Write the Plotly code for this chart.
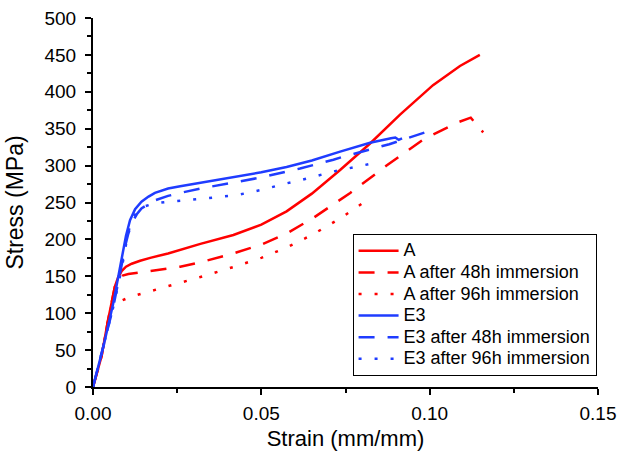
import plotly.graph_objects as go

# ---- data ----
a_x = [0, 0.0025, 0.0045, 0.0065, 0.0075, 0.0085, 0.0098, 0.0115, 0.014, 0.017, 0.0223, 0.0259, 0.0319,
       0.0417, 0.05, 0.0575, 0.065, 0.0734, 0.0823, 0.0912, 0.101, 0.109, 0.1149]
a_y = [0, 41, 91, 136, 149, 157, 163, 167, 171, 175, 181, 186, 194,
       206, 220, 238, 262, 294, 330, 369, 409, 435, 450]

a48_x = [0, 0.0025, 0.0045, 0.0065, 0.0075, 0.0088, 0.0105, 0.0223, 0.0259, 0.0319, 0.0417, 0.05,
         0.0575, 0.0654, 0.0734, 0.0764, 0.0872, 0.098, 0.108, 0.1122, 0.1159]
a48_y = [0, 41, 91, 136, 146, 151, 153, 161, 163, 169, 181, 193,
         208, 229, 253, 263, 300, 335, 358, 365, 345]

a96_x = [0, 0.0025, 0.0045, 0.0055, 0.007, 0.0085, 0.011, 0.015, 0.0223, 0.0279, 0.0319, 0.0427,
         0.05, 0.0575, 0.065, 0.0714, 0.0743, 0.0813, 0.0825]
a96_y = [0, 41, 91, 110, 115, 117, 122, 127, 136, 143, 149, 164,
         175, 189, 206, 223, 231, 253, 256]

e3_x = [0, 0.0031, 0.006, 0.0085, 0.0098, 0.011, 0.0125, 0.0144, 0.0165, 0.0184, 0.0223, 0.0259, 0.032,
        0.0417, 0.05, 0.0575, 0.065, 0.0734, 0.0823, 0.0885, 0.0898, 0.0908, 0.0918]
e3_y = [0, 55, 113, 177, 205, 226, 241, 251, 258, 263, 269, 272, 277,
        284, 291, 298, 307, 319, 331, 337, 338, 335, 337]

e48_x = [0, 0.003, 0.006, 0.0085, 0.0095, 0.0105, 0.0115, 0.013, 0.0144, 0.0184, 0.0223, 0.0259, 0.032,
         0.0417, 0.05, 0.0575, 0.0615, 0.0714, 0.0743, 0.088, 0.1]
e48_y = [0, 52, 108, 165, 190, 208, 222, 234, 242, 253, 259, 263, 269,
         277, 284, 292, 296, 308, 312, 329, 347]

e96_x = [0, 0.003, 0.006, 0.0085, 0.0105, 0.012, 0.0134, 0.0155, 0.0184, 0.0223, 0.0279, 0.032,
         0.0427, 0.05, 0.0575, 0.0615, 0.0714, 0.0823, 0.083]
e96_y = [0, 52, 108, 160, 211, 230, 240, 245, 249, 251, 253, 255,
         260, 267, 276, 280, 292, 303, 303]

names = ["A", "A after 48h immersion", "A after 96h immersion",
         "E3", "E3 after 48h immersion", "E3 after 96h immersion"]

RED = "#ff0000"
BLUE = "#1f3cff"
FONT = "Liberation Sans, Arial, sans-serif"

series = [
    (a_x, a_y, RED, "solid"),
    (a48_x, a48_y, RED, "16px,13px"),
    (a96_x, a96_y, RED, "3px,13px"),
    (e3_x, e3_y, BLUE, "solid"),
    (e48_x, e48_y, BLUE, "16px,13px"),
    (e96_x, e96_y, BLUE, "3px,13px"),
]

fig = go.Figure()
for (xs, ys, col, dash), nm in zip(series, names):
    fig.add_trace(go.Scatter(
        x=xs, y=ys, mode="lines",
        name="<span style='font-size:18px'>" + nm + "</span>",
        line=dict(color=col, width=2.5, dash=dash)))

axis_common = dict(
    showline=True, linecolor="black", linewidth=2,
    ticks="outside", ticklen=6, tickwidth=2, tickcolor="black",
    showgrid=False, zeroline=False, mirror=False, automargin=False,
    ticklabeloverflow="allow",
    tickfont=dict(family=FONT, size=19, color="black"),
)

fig.update_layout(
    width=618, height=457,
    margin=dict(l=93, r=20, t=18, b=70),
    paper_bgcolor="white", plot_bgcolor="white",
    font=dict(family=FONT, color="black"),
    xaxis=dict(range=[0, 0.15], dtick=0.05, tick0=0, tickformat=".2f",
               ticklabelstandoff=2,
               title=dict(text="Strain (mm/mm)", font=dict(family=FONT, size=22, color="black"), standoff=8),
               minor=dict(dtick=0.025, ticks="outside", ticklen=4, tickwidth=2, tickcolor="black"),
               **axis_common),
    yaxis=dict(range=[0, 500], dtick=50, tick0=0,
               ticklabelstandoff=5,
               title=dict(text="Stress (MPa)", font=dict(family=FONT, size=23, color="black"), standoff=14),
               minor=dict(dtick=25, ticks="outside", ticklen=4, tickwidth=2, tickcolor="black"),
               **axis_common),
    legend=dict(x=0.514, y=0.4145, xanchor="left", yanchor="top",
                bordercolor="black", borderwidth=1, bgcolor="white",
                font=dict(family=FONT, size=14.3, color="black"),
                itemwidth=40, tracegroupgap=0),
    showlegend=True,
)

# remove the default 8px page margin so the 618x457 figure fills the window exactly
fig.write_html("out.html", config={"displayModeBar": False},
               post_script="document.body.style.margin='0';document.body.style.overflow='hidden';")
